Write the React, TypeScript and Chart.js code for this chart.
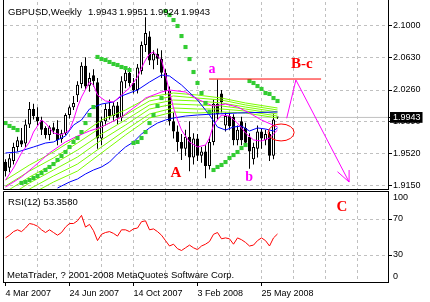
import React, { useEffect, useRef } from 'react';
import { Chart, registerables } from 'chart.js';

Chart.register(...registerables);

// ---------- data ----------
const SYMBOL = 'GBPUSD,Weekly';
const DATE_TICKS = [0, 16, 32, 48, 64];
const DATE_LABELS = ['4 Mar 2007', '24 Jun 2007', '14 Oct 2007', '3 Feb 2008', '25 May 2008'];
const GRID_BARS = [0, 8, 16, 24, 32, 40, 48, 56, 64, 72, 80, 88];
const PRICE_TICKS = [1.915, 1.952, 1.989, 2.026, 2.063, 2.1];
const RSI_TICKS = [0, 30, 70, 100];

const OPEN = [1.943, 1.936, 1.944, 1.960, 1.968, 1.964, 1.986, 2.004, 1.995, 1.991, 1.982, 1.974, 1.983, 1.981, 1.969, 1.976, 1.997, 2.006, 2.020, 2.033, 2.054, 2.031, 2.043, 2.035, 1.970, 1.990, 2.004, 1.996, 2.008, 1.994, 2.036, 2.046, 2.034, 2.026, 2.048, 2.078, 2.088, 2.060, 2.068, 2.062, 2.046, 2.025, 1.990, 1.978, 1.966, 1.958, 1.972, 1.948, 1.970, 1.950, 1.955, 1.938, 1.966, 2.010, 2.022, 1.985, 1.996, 1.995, 1.968, 1.990, 1.982, 1.972, 1.946, 1.958, 1.978, 1.968, 1.975, 1.950, 1.9943];
const HIGH = [1.946, 1.952, 1.965, 1.972, 1.982, 1.992, 2.012, 2.010, 2.006, 1.995, 1.984, 1.985, 1.988, 1.991, 1.980, 1.999, 2.008, 2.019, 2.036, 2.058, 2.064, 2.046, 2.050, 2.040, 1.995, 2.010, 2.015, 2.012, 2.012, 2.042, 2.050, 2.052, 2.040, 2.056, 2.082, 2.110, 2.094, 2.072, 2.074, 2.072, 2.050, 2.030, 2.000, 1.985, 1.975, 1.980, 1.990, 1.976, 1.975, 1.960, 1.962, 1.972, 2.015, 2.038, 2.026, 2.000, 2.000, 1.998, 1.985, 1.995, 1.988, 1.976, 1.965, 1.985, 1.982, 1.980, 1.978, 1.998, 1.9951];
const LOW = [1.926, 1.931, 1.940, 1.955, 1.960, 1.960, 1.982, 1.992, 1.985, 1.974, 1.970, 1.968, 1.975, 1.962, 1.965, 1.974, 1.993, 2.003, 2.012, 2.028, 2.026, 2.024, 2.030, 1.958, 1.962, 1.985, 1.992, 1.990, 1.986, 1.990, 2.028, 2.030, 2.022, 2.022, 2.044, 2.070, 2.055, 2.050, 2.055, 2.040, 2.020, 1.985, 1.970, 1.955, 1.945, 1.950, 1.932, 1.940, 1.944, 1.942, 1.924, 1.934, 1.962, 1.992, 2.000, 1.978, 1.980, 1.962, 1.962, 1.962, 1.960, 1.935, 1.940, 1.948, 1.958, 1.962, 1.944, 1.946, 1.9924];
const CLOSE = [1.932, 1.947, 1.960, 1.968, 1.963, 1.986, 2.004, 1.996, 1.990, 1.980, 1.974, 1.983, 1.979, 1.968, 1.976, 1.997, 2.006, 2.011, 2.032, 2.054, 2.030, 2.040, 2.036, 1.970, 1.990, 2.004, 1.996, 2.008, 1.994, 2.036, 2.046, 2.034, 2.026, 2.052, 2.078, 2.092, 2.060, 2.068, 2.062, 2.046, 2.025, 1.990, 1.978, 1.966, 1.958, 1.972, 1.948, 1.970, 1.950, 1.955, 1.938, 1.966, 2.010, 1.998, 2.012, 1.996, 1.984, 1.968, 1.980, 1.968, 1.965, 1.955, 1.960, 1.978, 1.970, 1.975, 1.950, 1.992, 1.9943];

const SAR = [1.9878, 1.9844, 1.9821, 1.9797, 1.9185, 1.9196, 1.9219, 1.9242, 1.9266, 1.9300, 1.9335, 1.9370, 1.9404, 1.9451, 1.9497, 1.9543, 1.9601, 1.9659, 1.9705, 1.9774, 1.9878, 1.9971, 2.0063, 2.0642, 2.0618, 2.0607, 2.0584, 2.0561, 2.0549, 2.0526, 2.0514, 2.0491, 1.9647, 1.9659, 1.9705, 1.9774, 1.9878, 1.9971, 2.0075, 2.0167, 2.1173, 2.1127, 2.1069, 2.1000, 2.0884, 2.0757, 2.0618, 2.0468, 2.0341, 2.0225, 2.0110, 2.0006, 1.9335, 1.9370, 1.9393, 1.9427, 1.9474, 1.9508, 1.9543, 1.9589, 1.9624, 2.0364, 2.0341, 2.0306, 2.0272, 2.0225, 2.0214, 2.0167, 2.0133];

const RSI = [49, 52, 56, 58, 56, 60, 65, 64, 62, 58, 55, 58, 55, 52, 55, 61, 65, 65, 68, 74, 61, 64, 57, 46, 53, 55, 56, 54, 51, 58, 58, 56, 59, 60, 67, 68, 58, 59, 56, 52, 46, 40, 42, 37, 35, 38, 41, 38, 36, 40, 42, 45, 53, 55, 48, 49, 48, 42, 49, 47, 44, 40, 41, 46, 49, 46, 40, 49, 53.358];

const MA_FAST_X = [0, 2, 4, 6, 7, 9, 10, 12, 14, 16, 17, 18, 19, 21, 22, 23, 25, 27, 29, 31, 33, 34, 35, 36, 37, 39, 40, 41, 42, 43, 44, 46, 48, 50, 51, 52, 54, 56, 58, 60, 62, 64, 66, 68];
const MA_FAST = [1.9219, 1.9358, 1.9532, 1.9659, 1.9774, 1.9913, 1.9878, 1.9763, 1.9740, 1.9797, 1.9913, 2.0063, 2.0179, 2.0352, 2.0318, 2.0202, 2.0133, 2.0121, 2.0202, 2.0283, 2.0410, 2.0514, 2.0607, 2.0676, 2.0699, 2.0607, 2.0433, 2.0237, 2.0052, 1.9913, 1.9797, 1.9659, 1.9601, 1.9624, 1.9705, 1.9855, 1.9971, 1.9959, 1.9878, 1.9763, 1.9682, 1.9670, 1.9705, 1.9797];

const MA_SLOW_X = [0, 4, 7, 11, 15, 18, 21, 24, 29, 33, 35, 39, 41, 45, 47, 50, 52, 55, 58, 61, 64, 68];
const MA_SLOW = [1.9138, 1.9254, 1.9370, 1.9532, 1.9659, 1.9728, 1.9786, 1.9832, 1.9948, 2.0087, 2.0167, 2.0237, 2.0260, 2.0237, 2.0179, 2.0110, 2.0075, 2.0098, 2.0063, 1.9994, 1.9913, 1.9832];

const BLUE_MID_X = [0, 3, 7, 10, 12, 15, 17, 19, 21, 24, 27, 29, 33, 36, 39, 41, 44, 48, 51, 53, 55, 57, 59, 61, 63, 65, 67, 68];
const BLUE_MID = [1.9532, 1.9543, 1.9601, 1.9647, 1.9659, 1.9728, 1.9855, 1.9913, 2.0040, 2.0098, 2.0121, 2.0191, 2.0260, 2.0352, 2.0433, 2.0422, 2.0318, 2.0144, 1.9971, 1.9832, 1.9797, 1.9832, 1.9844, 1.9786, 1.9821, 1.9809, 1.9786, 1.9821];

const BLUE_SLOW_X = [13, 14, 16, 18, 20, 22, 24, 26, 28, 30, 32, 34, 36, 38, 40, 42, 45, 48, 52, 58, 68];
const BLUE_SLOW = [1.9127, 1.9150, 1.9196, 1.9231, 1.9289, 1.9335, 1.9370, 1.9427, 1.9520, 1.9601, 1.9659, 1.9751, 1.9821, 1.9878, 1.9913, 1.9936, 1.9959, 1.9971, 1.9982, 1.9994, 2.0006];

const LIME_X = [0, 6, 12, 18, 24, 30, 36, 42, 48, 54, 60, 68];
const LIME_1 = [1.9219, 1.9393, 1.9543, 1.9717, 1.9913, 2.0029, 2.0179, 2.0225, 2.0202, 2.0167, 2.0110, 2.0052];
const LIME_2 = [1.9150, 1.9323, 1.9474, 1.9647, 1.9832, 1.9971, 2.0133, 2.0191, 2.0167, 2.0144, 2.0087, 2.0029];
const LIME_3 = [1.9081, 1.9254, 1.9404, 1.9566, 1.9751, 1.9913, 2.0087, 2.0144, 2.0133, 2.0110, 2.0063, 2.0006];
const LIME_4 = [1.9011, 1.9185, 1.9335, 1.9485, 1.9682, 1.9855, 2.0040, 2.0098, 2.0087, 2.0075, 2.0040, 1.9982];
const LIME_5 = [1.8942, 1.9115, 1.9266, 1.9404, 1.9601, 1.9797, 1.9982, 2.0052, 2.0040, 2.0040, 2.0017, 1.9959];
const LIME_6 = [1.8872, 1.9046, 1.9196, 1.9323, 1.9532, 1.9740, 1.9936, 2.0006, 1.9994, 2.0006, 1.9994, 1.9936];

// analysis objects (bar index, price)
const LEVEL_X = [50.9, 78.9];
const LEVEL_Y = [2.0387, 2.0387];
const PROJ_X = [70.3, 72.6, 85.9];
const PROJ_Y = [1.9933, 2.0376, 1.9196];
const ARROW_X = [83.0, 85.9, 85.9];
const ARROW_Y = [1.9315, 1.9196, 1.9335];
const ELLIPSE_C = [68.9, 1.9769];
const ELLIPSE_R = [3.25, 0.0098];
const MAIN_MARK_TEXT = ['a', 'b', 'A', 'B-c'];
const MAIN_MARK_X = [51.6, 60.9, 42.6, 74.1];
const MAIN_MARK_Y = [2.0457, 1.9208, 1.9254, 2.0514];
const RSI_MARK_TEXT = ['C'];
const RSI_MARK_X = [84.1];
const RSI_MARK_Y = [78.9];

// ---------- styling ----------
const SANS = '"Liberation Sans", Arial, sans-serif';
const SERIF = '"Liberation Serif", "Times New Roman", serif';
const GRID = '#c0c0c0';
const NONE = 'rgba(0,0,0,0)';
const X_MIN = -0.375;
const X_MAX = 95.875;
const Y_MIN = 1.910375;
const Y_MAX = 2.12775;
const LAST = CLOSE[CLOSE.length - 1];

Chart.defaults.font.family = SANS;
Chart.defaults.font.size = 9;
Chart.defaults.color = '#000';

const pts = (xs: number[], ys: number[]) => xs.map((x, k) => ({ x, y: ys[k] }));
const line = (data: any[], color: string, order: number) => ({
  type: 'line', data, borderColor: color, borderWidth: 1, pointRadius: 0, tension: 0,
  fill: false, order, spanGaps: true,
});
const zeroPad = (s: any) => { s.paddingLeft = 0; s.paddingRight = 0; s.paddingTop = 0; s.paddingBottom = 0; };

function frame(chart: any, withTop: boolean, bottomOffset: number) {
  const { ctx, chartArea: a } = chart;
  ctx.save();
  ctx.strokeStyle = '#000';
  ctx.lineWidth = 1;
  ctx.beginPath();
  const L = a.left - 0.5, R = a.right - 0.5;
  const T = withTop ? a.top - 0.5 : 0;
  const B = a.bottom + bottomOffset;
  ctx.moveTo(L, T); ctx.lineTo(L, B + 0.5);
  ctx.moveTo(R, T); ctx.lineTo(R, B + 0.5);
  ctx.moveTo(L, B); ctx.lineTo(R + 0.5, B);
  if (withTop) { ctx.moveTo(L, T); ctx.lineTo(R + 0.5, T); }
  ctx.stroke();
  ctx.restore();
}

function marks(chart: any, texts: string[], xs: number[], ys: number[]) {
  const { ctx, scales } = chart;
  ctx.save();
  ctx.textAlign = 'center';
  ctx.textBaseline = 'alphabetic';
  texts.forEach((t, k) => {
    const upper = t !== t.toLowerCase();
    ctx.fillStyle = upper ? '#ff0000' : '#ff00ff';
    ctx.font = `bold ${upper ? 15 : 14}px ${SERIF}`;
    ctx.fillText(t, scales.x.getPixelForValue(xs[k]), scales.y.getPixelForValue(ys[k]));
  });
  ctx.restore();
}

const mainDecor = {
  id: 'mainDecor',
  afterDatasetsDraw(chart: any) {
    const { ctx, scales } = chart;
    const cx = scales.x.getPixelForValue(ELLIPSE_C[0]);
    const cy = scales.y.getPixelForValue(ELLIPSE_C[1]);
    const rx = Math.abs(scales.x.getPixelForValue(ELLIPSE_C[0] + ELLIPSE_R[0]) - cx);
    const ry = Math.abs(scales.y.getPixelForValue(ELLIPSE_C[1] + ELLIPSE_R[1]) - cy);
    ctx.save();
    ctx.strokeStyle = '#ff0000';
    ctx.lineWidth = 1;
    ctx.beginPath();
    ctx.ellipse(cx, cy, rx, ry, 0, 0, Math.PI * 2);
    ctx.stroke();
    ctx.restore();
    marks(chart, MAIN_MARK_TEXT, MAIN_MARK_X, MAIN_MARK_Y);
  },
  afterDraw(chart: any) {
    frame(chart, false, -0.5);
    const { ctx } = chart;
    ctx.save();
    ctx.fillStyle = '#000';
    ctx.font = `9.5px ${SANS}`;
    ctx.textBaseline = 'alphabetic';
    ctx.fillText(SYMBOL, 8, 15);
    const vals = [OPEN, HIGH, LOW, CLOSE].map((a) => a[a.length - 1].toFixed(4));
    vals.forEach((v, k) => ctx.fillText(v, 88 + k * 31, 15));
    ctx.restore();
  },
};

const rsiDecor = {
  id: 'rsiDecor',
  afterDatasetsDraw(chart: any) {
    marks(chart, RSI_MARK_TEXT, RSI_MARK_X, RSI_MARK_Y);
  },
  afterDraw(chart: any) {
    frame(chart, true, 0.5);
    const { ctx } = chart;
    ctx.save();
    ctx.fillStyle = '#000';
    ctx.font = `9.5px ${SANS}`;
    ctx.textBaseline = 'alphabetic';
    ctx.fillText(`RSI(12) ${RSI[RSI.length - 1].toFixed(4)}`, 8, 15);
    ctx.fillText('MetaTrader, ? 2001-2008 MetaQuotes Software Corp.', 7, 88);
    ctx.restore();
  },
};

function mainConfig(): any {
  const idx = OPEN.map((_, i) => i);
  return {
    type: 'line',
    data: {
      datasets: [
        line(pts(LEVEL_X, LEVEL_Y), '#ff0000', 0),
        line(pts(PROJ_X, PROJ_Y), '#ff00ff', 0),
        line(pts(ARROW_X, ARROW_Y), '#ff00ff', 0),
        {
          type: 'line', data: pts(idx, SAR), showLine: false, pointStyle: 'rect', pointRadius: 2.9,
          pointBackgroundColor: '#33cc33', pointBorderColor: '#33cc33', pointBorderWidth: 0, order: 1,
        },
        line(pts(MA_FAST_X, MA_FAST), '#ff00ff', 2),
        line(pts(MA_SLOW_X, MA_SLOW), '#ff00ff', 2),
        line(pts(BLUE_MID_X, BLUE_MID), '#0000ff', 2),
        line(pts(BLUE_SLOW_X, BLUE_SLOW), '#0000ff', 2),
        line(pts(LIME_X, LIME_1), '#7cfc00', 3),
        line(pts(LIME_X, LIME_2), '#7cfc00', 3),
        line(pts(LIME_X, LIME_3), '#7cfc00', 3),
        line(pts(LIME_X, LIME_4), '#7cfc00', 3),
        line(pts(LIME_X, LIME_5), '#7cfc00', 3),
        line(pts(LIME_X, LIME_6), '#7cfc00', 3),
        {
          type: 'bar', data: idx.map((i) => ({ x: i, y: [OPEN[i], CLOSE[i]] })),
          backgroundColor: idx.map((i) => (CLOSE[i] >= OPEN[i] ? '#ffffff' : '#000000')),
          borderColor: '#000', borderWidth: 1, borderSkipped: false, barThickness: 3,
          minBarLength: 1, grouped: false, inflateAmount: 0, order: 8,
        },
        {
          type: 'bar', data: idx.map((i) => ({ x: i, y: [LOW[i], HIGH[i]] })),
          backgroundColor: '#000', borderWidth: 0, barThickness: 1, grouped: false,
          inflateAmount: 0, order: 9,
        },
        line([{ x: X_MIN, y: LAST }, { x: X_MAX, y: LAST }], GRID, 10),
      ],
    },
    options: {
      responsive: false, animation: false, devicePixelRatio: 1,
      layout: { padding: { left: 4, top: 2, right: 0, bottom: 0 }, autoPadding: false },
      plugins: { legend: { display: false }, tooltip: { enabled: false } },
      events: [],
      scales: {
        x: {
          type: 'linear', min: X_MIN, max: X_MAX, offset: false,
          afterBuildTicks: (s: any) => { s.ticks = GRID_BARS.map((v) => ({ value: v })); },
          afterFit: (s: any) => { s.height = 0; zeroPad(s); },
          ticks: { display: false },
          grid: { offset: false, drawTicks: false, color: (c: any) => (c.tick && c.tick.value > 0 ? GRID : NONE) },
          border: { display: false, dash: [3, 3] },
        },
        y: {
          type: 'linear', position: 'right', min: Y_MIN, max: Y_MAX,
          afterBuildTicks: (s: any) => { s.ticks = [...PRICE_TICKS, LAST].map((v) => ({ value: v })); },
          afterFit: (s: any) => { s.width = 41; zeroPad(s); },
          ticks: {
            autoSkip: false, padding: 1, font: { size: 9 },
            callback: (v: any) => Number(v).toFixed(4),
            color: (c: any) => (c.tick && c.tick.value === LAST ? '#ffffff' : '#000000'),
            showLabelBackdrop: (c: any) => !!(c.tick && c.tick.value === LAST),
            backdropColor: '#000', backdropPadding: { top: 0, bottom: 0, left: 3, right: 2 },
          },
          grid: {
            tickLength: 3,
            color: (c: any) => (c.tick && c.tick.value === LAST ? NONE : GRID),
            tickColor: '#000',
          },
          border: { display: false, dash: [3, 3] },
        },
      },
    },
    plugins: [mainDecor],
  };
}

function rsiConfig(): any {
  const idx = RSI.map((_, i) => i);
  return {
    type: 'line',
    data: { datasets: [line(pts(idx, RSI), '#ff0000', 0)] },
    options: {
      responsive: false, animation: false, devicePixelRatio: 1,
      layout: { padding: { left: 4, top: 2, right: 0, bottom: 0 }, autoPadding: false },
      plugins: { legend: { display: false }, tooltip: { enabled: false } },
      events: [],
      scales: {
        x: {
          type: 'linear', min: X_MIN, max: X_MAX, offset: false,
          afterBuildTicks: (s: any) => { s.ticks = GRID_BARS.map((v) => ({ value: v })); },
          afterFit: (s: any) => { s.height = 20; zeroPad(s); },
          ticks: {
            autoSkip: false, maxRotation: 0, minRotation: 0, align: 'start', padding: 2, font: { size: 9 },
            callback: (v: any) => { const k = DATE_TICKS.indexOf(Number(v)); return k >= 0 ? DATE_LABELS[k] : ''; },
          },
          grid: {
            offset: false, tickLength: 4,
            color: (c: any) => (c.tick && c.tick.value > 0 ? GRID : NONE),
            tickColor: (c: any) => (c.tick && DATE_TICKS.includes(c.tick.value) ? '#000' : NONE),
          },
          border: { display: false, dash: [3, 3] },
        },
        y: {
          type: 'linear', position: 'right', min: 0, max: 100,
          afterBuildTicks: (s: any) => { s.ticks = RSI_TICKS.map((v) => ({ value: v })); },
          afterFit: (s: any) => { s.width = 41; zeroPad(s); },
          ticks: {
            autoSkip: false, padding: 1, font: { size: 9 },
            callback: (v: any) => (v === 100 ? ['', '100'] : v === 0 ? ['0', ''] : String(v)),
          },
          grid: {
            tickLength: 3,
            color: (c: any) => (c.tick && c.tick.value > 0 && c.tick.value < 100 ? GRID : NONE),
            tickColor: (c: any) => (c.tick && c.tick.value > 0 && c.tick.value < 100 ? '#000' : NONE),
          },
          border: { display: false, dash: [3, 3] },
        },
      },
    },
    plugins: [rsiDecor],
  };
}

export default function App() {
  const mainRef = useRef<HTMLCanvasElement>(null);
  const rsiRef = useRef<HTMLCanvasElement>(null);
  useEffect(() => {
    const c1 = new Chart(mainRef.current as HTMLCanvasElement, mainConfig());
    const c2 = new Chart(rsiRef.current as HTMLCanvasElement, rsiConfig());
    return () => { c1.destroy(); c2.destroy(); };
  }, []);
  return (
    <div style={{ position: 'absolute', left: 0, top: 0, width: 430, height: 302, background: '#fff' }}>
      <canvas ref={mainRef} width={430} height={190}
        style={{ position: 'absolute', left: 0, top: 0, width: 430, height: 190 }} />
      <canvas ref={rsiRef} width={430} height={112}
        style={{ position: 'absolute', left: 0, top: 190, width: 430, height: 112 }} />
    </div>
  );
}
